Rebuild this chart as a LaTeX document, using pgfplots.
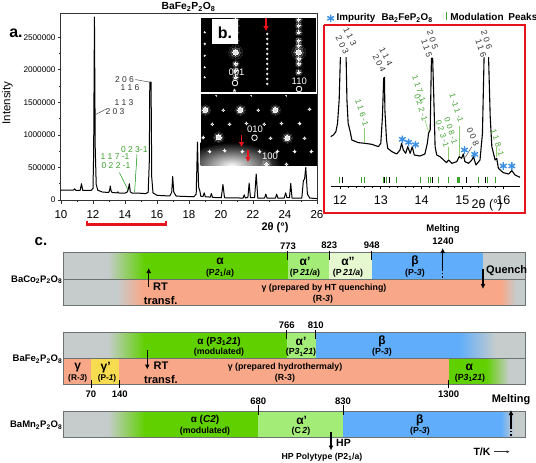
\documentclass[border=0pt]{standalone}
\usepackage{fontspec}
\setmainfont{Liberation Sans}
\usepackage{pgfplots}
\pgfplotsset{compat=1.18}
\usetikzlibrary{arrows.meta}
\newcommand{\fs}[1]{\fontsize{#1}{#1}\selectfont}
\definecolor{gr}{HTML}{C6CCCC}
\definecolor{grn}{HTML}{60D000}
\definecolor{lgrn}{HTML}{A4EC78}
\definecolor{vlg}{HTML}{E6F8D0}
\definecolor{blu}{HTML}{60AEFB}
\definecolor{sal}{HTML}{F8A888}
\definecolor{yel}{HTML}{F8DC50}
\definecolor{edge}{HTML}{6C7272}
\definecolor{pk}{HTML}{3CA02C}
\definecolor{mod}{HTML}{8CCB6C}
\definecolor{star}{HTML}{3C8FE0}
\definecolor{rd}{HTML}{E8141C}
\newcommand{\band}[5]{\addplot[draw=none,#5] coordinates {(#1,#3)(#2,#3)(#2,#4)(#1,#4)} --cycle;}
\newcommand{\seg}[5][black]{\addplot[#1,#5] coordinates {(#2,#3)(#2,#4)};}
\newcommand{\spots}[3]{\addplot[only marks,mark=*,mark size=#1pt,mark options={draw=white,fill=white,line width=0pt,opacity=#2}] coordinates {#3};}
\newcommand{\glow}[4]{% big, middle, small radius; points
 \spots{#1}{.07}{#4}\spots{#2}{.16}{#4}\spots{#3}{.85}{#4}}
\begin{document}
\begin{tikzpicture}[x=1pt,y=1pt]
\path[use as bounding box] (0,0) rectangle (536,463);
% ---------- a. powder pattern
\begin{axis}[at={(61pt,262pt)},anchor=south west,scale only axis,width=256pt,height=187pt,
 xmin=10,xmax=26,ymin=-15000,ymax=2857000,
 xtick={10,12,...,26},minor x tick num=1,
 ytick={0,500000,1000000,1500000,2000000,2500000},minor y tick num=1,
 scaled y ticks=false,tick align=outside,tick pos=left,
 major tick length=3pt,minor tick length=1.5pt,
 /pgf/number format/assume math mode=true,/pgf/number format/fixed,/pgf/number format/1000 sep={},
 xticklabel style={font=\fs{11.5},yshift=-3pt},yticklabel style={font=\fs{8.2},xshift=1pt},
 axis line style={black!80,line width=1pt},tick style={black!80,line width=.7pt}]
\addplot[black,line width=1pt,line join=round] coordinates {
(10,150000)(10.78,152000)(10.85,172000)(10.92,150000)(11.2,148000)(11.28,250000)(11.36,148000)(11.9,150000)(12.0,180000)(12.04,700000)(12.09,2810000)(12.14,800000)(12.2,240000)(12.3,150000)(12.6,122000)(12.98,116000)(13.04,150000)(13.08,215000)(13.13,140000)(13.2,115000)(13.5,110000)(13.55,125000)(13.6,108000)(14.0,105000)(14.15,125000)(14.22,180000)(14.27,250000)(14.33,125000)(14.45,105000)(14.9,105000)(15.3,98000)(15.45,120000)(15.52,600000)(15.55,1810000)(15.63,1810000)(15.67,350000)(15.75,110000)(16.0,72000)(16.8,62000)(16.92,120000)(16.98,360000)(17.05,120000)(17.2,60000)(18.3,50000)(18.45,90000)(18.53,890000)(18.6,200000)(18.68,140000)(18.74,55000)(18.88,55000)(18.95,110000)(19.02,50000)(19.33,45000)(19.4,100000)(19.47,40000)(20.02,35000)(20.12,240000)(20.22,35000)(21.38,30000)(21.45,80000)(21.52,30000)(21.68,40000)(21.76,260000)(21.84,35000)(22.1,35000)(22.2,400000)(22.3,30000)(22.72,30000)(22.8,90000)(22.88,28000)(23.4,28000)(23.48,90000)(23.56,28000)(23.95,30000)(24.04,110000)(24.12,35000)(24.28,35000)(24.36,255000)(24.44,30000)(25.05,30000)(25.15,300000)(25.22,320000)(25.3,500000)(25.4,90000)(25.55,30000)(26,22000)};
\addplot[black!70,line width=.5pt] coordinates {(12.14,1310000)(12.85,1400000)};
\addplot[black!70,line width=.5pt] coordinates {(14.65,1850000)(15.55,1810000)};
\addplot[green!55!black,line width=.5pt] coordinates {(14.75,700000)(14.6,120000)};
\addplot[green!55!black,line width=.5pt] coordinates {(13.65,420000)(14.2,150000)};
\end{axis}
% ---------- zoomed pattern
\begin{axis}[at={(330.6pt,277pt)},anchor=south west,scale only axis,width=189.4pt,height=128.7pt,
 xmin=11.77,xmax=16.41,ymin=2,ymax=388,
 axis x line=bottom,axis y line=none,axis line style={-,black,line width=.9pt},
 xtick={12,13,14,15,16},minor x tick num=4,
 tick align=outside,major tick length=3.5pt,minor tick length=2pt,tick style={black,line width=.7pt},
 /pgf/number format/assume math mode=true,xticklabel style={font=\fs{12.5},yshift=-3pt}]
\addplot[black,line width=1.1pt,line join=round] coordinates {
(11.77,150)(11.84,155)(11.90,165)(11.94,190)(11.98,260)(12.01,388)(12.08,900)(12.15,388)(12.17,260)(12.20,190)(12.25,165)(12.29,140)(12.45,132)(12.61,130)(12.78,127)(12.94,120)(13.00,130)(13.04,210)(13.07,325)(13.09,328)(13.10,230)(13.14,140)(13.17,115)(13.27,105)(13.39,98)(13.47,110)(13.51,130)(13.55,110)(13.61,100)(13.66,120)(13.72,100)(13.77,120)(13.82,95)(13.96,92)(14.08,98)(14.14,130)(14.17,160)(14.21,170)(14.24,385)(14.27,385)(14.30,260)(14.33,120)(14.37,95)(14.45,90)(14.61,72)(14.66,80)(14.74,70)(14.86,75)(14.92,90)(14.98,85)(15.02,98)(15.06,75)(15.15,70)(15.23,80)(15.27,90)(15.33,65)(15.43,80)(15.49,160)(15.53,388)(15.58,900)(15.64,388)(15.68,210)(15.72,120)(15.80,80)(15.84,85)(15.88,55)(16.00,42)(16.13,38)(16.21,48)(16.29,35)(16.41,28)};
% peak lines
\addplot[mod,line width=.8pt] coordinates {(12.59,175)(12.59,130)};
\addplot[mod,line width=.8pt] coordinates {(14.66,120)(14.66,82)};
\addplot[mod,line width=.8pt] coordinates {(14.93,182)(14.93,92)};
\addplot[mod,line width=.8pt] coordinates {(15.83,120)(15.83,88)};
\addplot[mod,line width=.6pt] coordinates {(14.08,200)(14.17,165)};
\addplot[black!70,line width=.5pt] coordinates {(15.23,120)(15.07,88)};
% tick rows
\addplot[only marks,mark=|,mark size=2.9pt,mark options={pk,line width=1.1pt}] coordinates {(11.98,20)(12.53,20)(12.59,20)(13.06,20)(13.13,20)(13.39,20)(13.98,20)(14.17,20)(14.22,20)(14.41,20)(14.66,20)(14.89,20)(14.93,20)(15.39,20)(15.61,20)(15.8,20)};
\addplot[only marks,mark=|,mark size=2.9pt,mark options={black,line width=1.1pt}] coordinates {(12.07,20)(13.09,20)(13.22,20)(14.27,20)(15.1,20)(15.57,20)};
% impurity stars
\addplot[only marks,mark=asterisk,mark size=3.8pt,mark options={star,line width=1.4pt}] coordinates {(13.53,142)(13.68,133)(13.85,126)(15.05,110)(15.3,97)(16.0,62)(16.21,62)};
\end{axis}
% ---------- b. electron diffraction, upper
\begin{axis}[at={(201.3pt,371.7pt)},anchor=south west,scale only axis,width=113.4pt,height=73.3pt,
 xmin=10,xmax=350,ymin=12,ymax=232,y dir=reverse,ticks=none,
 axis line style={black},axis background/.style={fill=black}]
\glow{7}{4.8}{2.8}{(113,115)(302,115)}
\glow{3.6}{2.6}{1.4}{(113,17)(113,35)(113,55)(113,80)(113,150)(113,170)(113,190)(302,17)(302,35)(302,55)(302,80)(302,95)(302,135)(302,150)(302,175)}
\spots{1.1}{.12}{(208,60)(208,75)(208,90)(208,105)(208,120)(208,135)(208,150)(208,165)(208,180)(208,195)(208,210)(20,55)(20,90)(20,125)(20,160)(20,190)}
\spots{.6}{.5}{(208,60)(208,75)(208,90)(208,105)(208,120)(208,135)(208,150)(208,165)(208,180)(208,195)(208,210)(20,55)(20,90)(20,125)(20,160)(20,190)}
\end{axis}
% ---------- b. electron diffraction, lower
\begin{axis}[at={(200.7pt,297.3pt)},anchor=south west,scale only axis,width=115.3pt,height=71.7pt,
 xmin=8,xmax=354,ymin=240,ymax=455,y dir=reverse,ticks=none,
 axis line style={black},axis background/.style={fill=black}]
\band{-50}{250}{385}{525}{inner color=white,outer color=black}
\glow{5.5}{4}{2.6}{(22,288)(127,288)(232,288)(62,370)(268,372)}
\glow{5}{3.5}{1.8}{(205,450)}
\spots{1.9}{.14}{(75,288)(180,288)(335,285)(42,330)(95,330)(145,328)(198,330)(250,328)(305,328)(15,370)(218,372)(320,372)(35,412)(80,410)(133,412)(185,412)(238,412)(290,412)(340,412)(265,450)}
\spots{1}{.7}{(75,288)(180,288)(335,285)(42,330)(95,330)(145,328)(198,330)(250,328)(305,328)(15,370)(218,372)(320,372)(35,412)(80,410)(133,412)(185,412)(238,412)(290,412)(340,412)(265,450)}
\spots{.6}{.4}{(55,245)(160,245)(265,245)}
\end{axis}
% ---------- overlay in picture pixels
\begin{axis}[at={(0pt,0pt)},anchor=south west,scale only axis,width=536pt,height=463pt,
 xmin=0,xmax=536,ymin=0,ymax=463,y dir=reverse,hide axis,clip=false]
% bar 1
\band{63.3}{108}{252.7}{279}{fill=gr}
\band{108}{145}{252.7}{279}{left color=gr,right color=grn}
\band{145}{287.7}{252.7}{279}{fill=grn}
\band{287.7}{329.3}{252.7}{279}{fill=lgrn}
\band{329.3}{371.7}{252.7}{279}{fill=vlg}
\band{371.7}{483.3}{252.7}{279}{fill=blu}
\band{483.3}{525.3}{252.7}{279}{fill=gr}
\band{63.3}{117}{279}{305.3}{fill=gr}
\band{117}{143}{279}{305.3}{left color=gr,right color=sal}
\band{143}{501}{279}{305.3}{fill=sal}
\band{501}{516}{279}{305.3}{left color=sal,right color=gr}
\band{516}{525.3}{279}{305.3}{fill=gr}
% bar 2
\band{63.3}{108}{332}{358.3}{fill=gr}
\band{108}{145}{332}{358.3}{left color=gr,right color=grn}
\band{145}{286.7}{332}{358.3}{fill=grn}
\band{286.7}{315.7}{332}{358.3}{fill=lgrn}
\band{315.7}{459}{332}{358.3}{fill=blu}
\band{459}{496}{332}{358.3}{left color=blu,right color=gr}
\band{496}{525.3}{332}{358.3}{fill=gr}
\band{63.3}{91.4}{358.3}{384.7}{fill=sal}
\band{91.4}{119.3}{358.3}{384.7}{fill=yel}
\band{119.3}{448.7}{358.3}{384.7}{fill=sal}
\band{448.7}{486}{358.3}{384.7}{fill=grn}
\band{486}{509}{358.3}{384.7}{left color=grn,right color=gr}
\band{509}{525.3}{358.3}{384.7}{fill=gr}
% bar 3
\band{63.3}{108}{411.3}{437.7}{fill=gr}
\band{108}{145}{411.3}{437.7}{left color=gr,right color=grn}
\band{145}{258.3}{411.3}{437.7}{fill=grn}
\band{258.3}{343.3}{411.3}{437.7}{fill=lgrn}
\band{343.3}{501}{411.3}{437.7}{fill=blu}
\band{501}{514}{411.3}{437.7}{left color=blu,right color=gr}
\band{514}{525.3}{411.3}{437.7}{fill=gr}
% outlines
\addplot[edge,line width=.9pt] coordinates {(63.3,252.7)(525.3,252.7)(525.3,305.3)(63.3,305.3)(63.3,252.7)};
\addplot[edge,line width=.8pt] coordinates {(63.3,279)(525.3,279)};
\addplot[edge,line width=.9pt] coordinates {(63.3,332)(525.3,332)(525.3,384.7)(63.3,384.7)(63.3,332)};
\addplot[edge,line width=.8pt] coordinates {(63.3,358.3)(525.3,358.3)};
\addplot[edge,line width=.9pt] coordinates {(63.3,411.3)(525.3,411.3)(525.3,437.7)(63.3,437.7)(63.3,411.3)};
% temperature ticks
\seg{287.7}{250.5}{259.5}{line width=1pt}
\seg{329.3}{250.5}{259.5}{line width=1pt}
\seg{371.7}{250.5}{259.5}{line width=1pt}
\seg{286.7}{330}{338.5}{line width=1pt}
\seg{315.7}{330}{338.5}{line width=1pt}
\seg{91}{379.5}{388}{line width=1pt}
\seg{119.7}{379.5}{388}{line width=1pt}
\seg{448.7}{379.5}{388}{line width=1pt}
\seg{258.3}{405}{415}{line width=1pt}
\seg{343.3}{405}{415}{line width=1pt}
% arrows
\addplot[black,line width=1.3pt,-{Latex[length=5pt,width=5pt]}] coordinates {(442.7,270)(442.7,248)};
\addplot[black,line width=1.2pt,dotted] coordinates {(442.7,270)(442.7,279)};
\addplot[black,line width=1.3pt,-{Latex[length=5pt,width=5pt]}] coordinates {(483,268.5)(483,289)};
\addplot[black,line width=1.3pt,-{Latex[length=5pt,width=5pt]}] coordinates {(148.7,287)(148.7,268)};
\addplot[black,line width=1.3pt,-{Latex[length=5pt,width=5pt]}] coordinates {(147.3,350)(147.3,369.5)};
\addplot[black,line width=1.3pt,-{Latex[length=5pt,width=5pt]}] coordinates {(511,428)(511,410)};
\addplot[black,line width=1.2pt,dotted] coordinates {(511,428)(511,437)};
\addplot[black,line width=1.3pt,-{Latex[length=5pt,width=5pt]}] coordinates {(331,431.7)(331,450.5)};
\addplot[black!80,line width=.7pt,-{Latex[length=3.5pt,width=3pt]}] coordinates {(494,451.7)(510,451.7)};
% red bracket and frame
\addplot[rd,line width=2.2pt] coordinates {(87.3,220.5)(87.3,224.5)(165.7,224.5)(165.7,220.5)};
\addplot[rd,line width=2pt] coordinates {(324.3,24.5)(525,24.5)(525,213)(324.3,213)(324.3,24.5)};
% red arrows in b
\addplot[rd,line width=1.2pt,-{Latex[length=5pt,width=6pt]}] coordinates {(266,18)(266,31)};
\addplot[rd,line width=1.2pt,-{Latex[length=5pt,width=6pt]}] coordinates {(241.5,135)(241.5,147)};
\addplot[rd,line width=1.2pt,-{Latex[length=5pt,width=6pt]}] coordinates {(248,150)(248,162)};
% legend mark
\addplot[pk,line width=1.2pt] coordinates {(446.3,12)(446.3,20)};
\addplot[only marks,mark=asterisk,mark size=3.8pt,mark options={star,line width=1.4pt}] coordinates {(330.7,18.3)};
% white box behind b.
\band{212}{238}{19}{44}{fill=white}
% circles
\addplot[only marks,mark=o,mark size=2.8pt,mark options={white,line width=.8pt}] coordinates {(235,83)(299,89)(254.5,137.7)};
\node[white,font=\bfseries\fs{9}] at (axis cs:234.5,92) {*};
% text
\tikzset{every node/.style={inner sep=0pt,outer sep=0pt}}
\node[font=\bfseries\fs{16}] at (axis cs:225,33) {b.};
\node[font=\bfseries\fs{16}] at (axis cs:16,33) {a.};
\node[font=\bfseries\fs{15}] at (axis cs:41,242) {c.};
\node[font=\bfseries\fs{10.3}] at (axis cs:188.5,6.7) {BaFe$_{\mathbf 2}$P$_{\mathbf 2}$O$_{\mathbf 8}$};
\node[font=\fs{11.5},rotate=90] at (axis cs:7.5,103) {Intensity};
\node[font=\bfseries\fs{11}] at (axis cs:275,227.5) {2θ (°)};
\node[white,font=\fs{9.5}] at (axis cs:236.5,72.7) {001};
\node[white,font=\fs{9.5}] at (axis cs:299.3,81) {110};
\node[white,font=\fs{9.5}] at (axis cs:255,129) {010};
\node[white,font=\fs{9.5}] at (axis cs:270,156.5) {100};
% labels of panel a
\node[black!80,font=\fs{8.5}] at (axis cs:124,103) {1 1 3};
\node[black!80,font=\fs{8.5}] at (axis cs:115,111.7) {2 0 3};
\node[black!80,font=\fs{8.5}] at (axis cs:124.5,80) {2 0 6};
\node[black!80,font=\fs{8.5}] at (axis cs:130,87.3) {1 1 6};
\node[pk,font=\fs{8.5}] at (axis cs:134.3,150) {0 2 3-1};
\node[pk,font=\fs{8.5}] at (axis cs:115,156.7) {1 1 7 -1};
\node[pk,font=\fs{8.5}] at (axis cs:116,165.7) {0 2 2 -1};
% legend above red frame
\node[anchor=west,font=\bfseries\fs{9.8}] at (axis cs:336.7,18) {Impurity};
\node[anchor=west,font=\bfseries\fs{9.8}] at (axis cs:381.5,18) {Ba$_{\mathbf 2}$FeP$_{\mathbf 2}$O$_{\mathbf 8}$};
\node[anchor=west,font=\bfseries\fs{10}] at (axis cs:450.3,17) {Modulation\hspace{2pt} Peaks};
% labels of zoomed pattern
\node[black!80,rotate=-63,font=\fs{8.5}] at (axis cs:350,36.7) {1 1 3};
\node[black!80,rotate=-63,font=\fs{8.5}] at (axis cs:342.3,45) {2 0 3};
\node[black!80,rotate=-63,font=\fs{8.5}] at (axis cs:386,56.7) {1 1 4};
\node[black!80,rotate=-63,font=\fs{8.5}] at (axis cs:379.3,63.3) {2 0 4};
\node[black!80,rotate=-72,font=\fs{8.5}] at (axis cs:432.7,40) {2 0 5};
\node[black!80,rotate=-72,font=\fs{8.5}] at (axis cs:426.7,48.3) {1 1 5};
\node[black!80,rotate=-72,font=\fs{8.5}] at (axis cs:486.7,40) {2 0 6};
\node[black!80,rotate=-72,font=\fs{8.5}] at (axis cs:481,48.3) {1 1 6};
\node[pk,rotate=-72,font=\fs{8}] at (axis cs:362,112.7) {1 1 6 -1};
\node[pk,rotate=-72,font=\fs{8}] at (axis cs:419,89) {1 1 7 -1};
\node[pk,rotate=-72,font=\fs{8}] at (axis cs:421,107.5) {0 2 2 -1};
\node[pk,rotate=-72,font=\fs{8}] at (axis cs:456.5,108) {1 -1 1 -1};
\node[pk,rotate=-72,font=\fs{8}] at (axis cs:451,131) {0 0 8 -1};
\node[pk,rotate=-72,font=\fs{8}] at (axis cs:442.5,133.5) {0 2 3 -1};
\node[black!80,rotate=-66,font=\fs{8.5}] at (axis cs:473,136.5) {0 0 8};
\node[pk,rotate=-72,font=\fs{8}] at (axis cs:497.5,142.5) {1 1 8 -1};
\node[font=\fs{12.5}] at (axis cs:487,205) {2θ (°)};
% phase diagram labels
\node[anchor=east,font=\bfseries\fs{9.5}] at (axis cs:62.3,279.7) {BaCo$_{\mathbf 2}$P$_{\mathbf 2}$O$_{\mathbf 8}$};
\node[anchor=east,font=\bfseries\fs{9.5}] at (axis cs:62.3,359) {BaFe$_{\mathbf 2}$P$_{\mathbf 2}$O$_{\mathbf 8}$};
\node[anchor=east,font=\bfseries\fs{9.5}] at (axis cs:62.3,425) {BaMn$_{\mathbf 2}$P$_{\mathbf 2}$O$_{\mathbf 8}$};
\tikzset{tk/.style={font=\bfseries\fs{8.8}},nm/.style={font=\bfseries\fs{9.5}},gk/.style={font=\bfseries\fs{12}}}
\node[nm] at (axis cs:288,246) {773};
\node[nm] at (axis cs:329.3,245.5) {823};
\node[nm] at (axis cs:371.7,245.5) {948};
\node[nm] at (axis cs:443,229.5) {Melting};
\node[nm] at (axis cs:443,241) {1240};
\node[font=\bfseries\fs{11}] at (axis cs:506.7,271) {Quench};
\node[font=\bfseries\fs{11}] at (axis cs:160.5,287) {RT};
\node[font=\bfseries\fs{11}] at (axis cs:160.7,300.3) {transf.};
\node[gk] at (axis cs:220,261) {α};
\node[tk] at (axis cs:220,273) {(P\textit{2}$_{\mathbf 1}$/\textit{a})};
\node[gk] at (axis cs:305,261) {α'};
\node[tk] at (axis cs:305,273) {(P\,\textit{21/a})};
\node[gk] at (axis cs:348,261) {α''};
\node[tk] at (axis cs:348,273) {(P\,\textit{21/a})};
\node[gk] at (axis cs:415,261) {β};
\node[tk] at (axis cs:415,273) {(P-\textit{3})};
\node[tk] at (axis cs:324,288) {γ (prepared by HT quenching)};
\node[tk] at (axis cs:323,299.7) {(R-\textit{3})};
% bar 2 text
\node[nm] at (axis cs:286.7,325) {766};
\node[nm] at (axis cs:315.7,325) {810};
\node[nm] at (axis cs:91,394) {70};
\node[nm] at (axis cs:119.7,394) {140};
\node[nm] at (axis cs:448.7,394) {1300};
\node[font=\bfseries\fs{11}] at (axis cs:161,366) {RT};
\node[font=\bfseries\fs{11}] at (axis cs:161,379.3) {transf.};
\node[font=\bfseries\fs{10}] at (axis cs:219,341.7) {α (P\textit{3}$_{\mathbf 1}$\textit{21})};
\node[tk] at (axis cs:219,352.7) {(modulated)};
\node[gk] at (axis cs:301,341) {α'};
\node[tk] at (axis cs:301,352.7) {(P\textit{3}$_{\mathbf 1}$\textit{21})};
\node[gk] at (axis cs:382,341) {β};
\node[tk] at (axis cs:382,352.7) {(P-\textit{3})};
\node[gk] at (axis cs:77.7,367.7) {γ};
\node[font=\bfseries\fs{8.3}] at (axis cs:77.7,378.3) {(R-\textit{3})};
\node[gk] at (axis cs:105.7,367.7) {γ'};
\node[font=\bfseries\fs{8.3}] at (axis cs:107,378.3) {(P-\textit{1})};
\node[tk] at (axis cs:285,367) {γ (prepared hydrothermaly)};
\node[tk] at (axis cs:285,378.3) {(R-3)};
\node[gk] at (axis cs:469.3,367.7) {α};
\node[tk] at (axis cs:470,378.3) {(P\textit{3}$_{\mathbf 1}$\textit{21})};
% bar 3 text
\node[nm] at (axis cs:258.3,401.7) {680};
\node[nm] at (axis cs:343,401.7) {830};
\node[font=\bfseries\fs{10}] at (axis cs:205,420) {α (\textit{C2})};
\node[tk] at (axis cs:205,431.7) {(modulated)};
\node[gk] at (axis cs:301.7,420) {α'};
\node[tk] at (axis cs:301,431.7) {(C\,\textit{2})};
\node[gk] at (axis cs:419.7,420) {β};
\node[tk] at (axis cs:420,431.7) {(P-\textit{3})};
\node[font=\bfseries\fs{11}] at (axis cs:511,400) {Melting};
\node[font=\bfseries\fs{10.5}] at (axis cs:343.5,443.3) {HP};
\node[font=\bfseries\fs{8.7}] at (axis cs:322,457) {HP Polytype (P2$_{\mathbf 1}$/a)};
\node[font=\bfseries\fs{10.5}] at (axis cs:482,451.7) {T/K};
\end{axis}
\end{tikzpicture}
\end{document}
